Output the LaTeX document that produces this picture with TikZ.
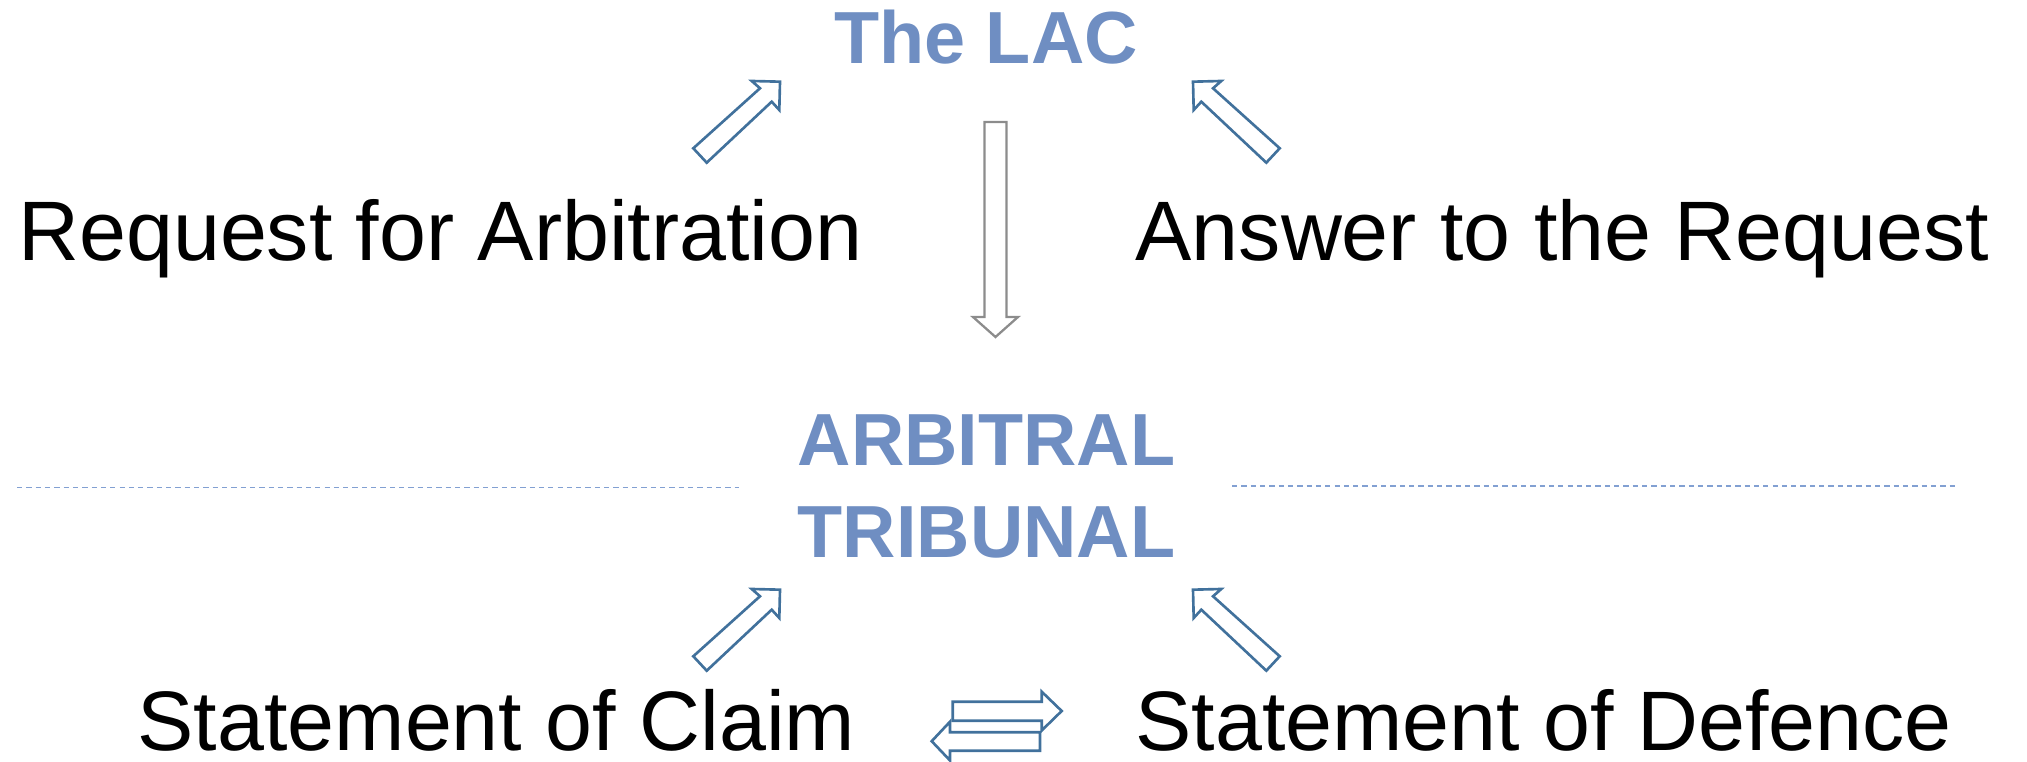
\documentclass[tikz,border=0pt]{standalone}
\usepackage{fontspec}
\setmainfont{Liberation Sans}
\definecolor{lacblue}{RGB}{111,142,194}
\definecolor{arrowblue}{RGB}{65,113,156}
\definecolor{arrowgrey}{RGB}{140,140,140}
\definecolor{sepblue}{RGB}{130,160,210}
\tikzset{
  plaintext/.style={inner sep=0pt, anchor=base, font=\fontsize{24}{28}\selectfont},
  heading/.style={inner sep=0pt, anchor=base, text=lacblue, align=center,
    font=\fontsize{21}{26.2}\selectfont\bfseries},
  blockarr/.style={draw=arrowblue, line width=0.75pt, line join=miter},
  greyarr/.style={draw=arrowgrey, line width=0.65pt, line join=miter},
  sepline/.style={draw=sepblue, line width=0.45pt, dash pattern=on 1.5pt off 1.15pt}
}
\begin{document}
\begin{tikzpicture}[x=0.01cm, y=-0.01cm]
  \useasboundingbox (0,0) rectangle (2027,762);

    % headings
    \node[heading] (lac) at (986,64) {The LAC};
    \node[heading] (trib) at (986.5,558) {ARBITRAL\\TRIBUNAL};

    % documents
    \node[plaintext] (req) at (440.5,261) {Request for Arbitration};
    \node[plaintext] (ans) at (1562.5,261) {Answer to the Request};
    \node[plaintext] (soc) at (496.5,751) {Statement of Claim};
    \node[plaintext] (sod) at (1543.5,751) {Statement of Defence};

    % separator
    \draw[sepline] (17,487.7) -- (739,487.7);
    \draw[sepline] (1232,486) -- (1956,486);

    % diagonal block arrows
    \foreach \dy in {0,508} {
      \draw[blockarr] (693.3,148.3+\dy) -- (760,88.3+\dy) -- (751.7,81+\dy) -- (780,81.7+\dy)
        -- (779.3,110+\dy) -- (771.7,101.7+\dy) -- (706.7,162.7+\dy) -- cycle;
      \draw[blockarr] (1279.7,148.3+\dy) -- (1213,88.3+\dy) -- (1221.3,81+\dy) -- (1193,81.7+\dy)
        -- (1193.7,110+\dy) -- (1201.3,101.7+\dy) -- (1266.3,162.7+\dy) -- cycle;
    }

    % down arrow
    \draw[greyarr] (984.5,122) -- (1006.5,122) -- (1006.5,317) -- (1018,317) -- (995.5,337)
      -- (973,317) -- (984.5,317) -- cycle;

    % exchange arrows
    \draw[blockarr] (952.7,701.7) -- (1041.7,701.7) -- (1041.7,691.7) -- (1061.7,711)
      -- (1041.7,730.5) -- (1041.7,720.7) -- (952.7,720.7) -- cycle;
    \draw[blockarr] (1040,732.3) -- (950,732.3) -- (950,721.7) -- (931.7,741.2)
      -- (950,760.5) -- (950,750.7) -- (1040,750.7) -- cycle;

\end{tikzpicture}
\end{document}
